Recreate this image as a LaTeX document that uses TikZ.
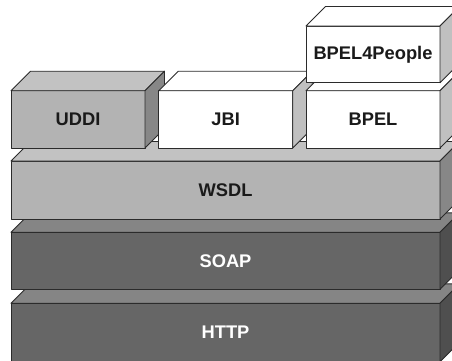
\documentclass[tikz,border=0pt]{standalone}
\usepackage{fontspec}
\setmainfont{Liberation Sans}
\definecolor{edge}{HTML}{2B2B2B}
\definecolor{lightfront}{HTML}{B3B3B3}
\definecolor{lighttop}{HTML}{C2C2C2}
\definecolor{lightside}{HTML}{878787}
\definecolor{darkfront}{HTML}{666666}
\definecolor{darktop}{HTML}{858585}
\definecolor{darkside}{HTML}{4F4F4F}
\definecolor{whiteside}{HTML}{C0C0C0}
\definecolor{labelblack}{HTML}{1A1A1A}
% 3D block: front face is a named node, top and side faces hang off its anchors
% name, x, y, then width, height, label, side fill, front fill, top fill, text colour
\newcommand\layerbox[3]{\def\lbname{#1}\def\lbx{#2}\def\lby{#3}\layerboxB}
\newcommand\layerboxB[7]{%
  \node[front face, fill=#5, text=#7, minimum width=#1pt, minimum height=#2pt]
    (\lbname) at (\lbx,\lby) {#3};
  \filldraw[face, fill=#6] (\lbname.north west) -- ++(\depth,-\depth)
    -- ++(#1,0) -- (\lbname.north east) -- cycle;
  \filldraw[face, fill=#4] (\lbname.north east) -- ++(\depth,-\depth)
    -- ++(0,#2) -- (\lbname.south east) -- cycle;
}
\def\depth{19.5}
\tikzset{
  face/.style={draw=edge, line width=0.9pt, line join=round},
  front face/.style={face, rectangle, anchor=north west, inner sep=0pt,
    outer sep=0pt, font=\fontsize{18.3}{20}\selectfont\bfseries},
}
\begin{document}
\begin{tikzpicture}[x=1pt, y=-1pt]
  \useasboundingbox (0,0) rectangle (452,360);
  \clip (0,0) rectangle (452,360);
  \fill[white] (0,0) rectangle (452,360);
  % protocol stack, bottom layer first
  \layerbox{http}{11}{303.3}{429}{58.5}{HTTP}{darkside}{darkfront}{darktop}{white}
  \layerbox{soap}{11}{232.3}{429}{57}{SOAP}{darkside}{darkfront}{darktop}{white}
  \layerbox{wsdl}{11}{161}{429}{58}{WSDL}{lightside}{lightfront}{lighttop}{labelblack}
  % components on top of WSDL
  \layerbox{uddi}{11}{90.7}{134}{57.3}{UDDI}{lightside}{lightfront}{lighttop}{labelblack}
  \layerbox{jbi}{158.7}{90.7}{134}{57.3}{JBI}{whiteside}{white}{white}{labelblack}
  \layerbox{bpel}{306}{90.7}{134}{57.3}{BPEL}{whiteside}{white}{white}{labelblack}
  \layerbox{bpelpeople}{306}{26}{134}{56.7}{BPEL4People}{whiteside}{white}{white}{labelblack}
\end{tikzpicture}
\end{document}
